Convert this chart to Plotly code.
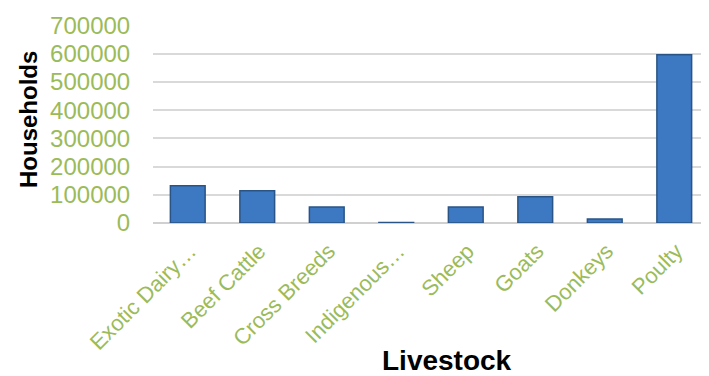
import plotly.graph_objects as go

categories = ["Exotic Dairy…", "Beef Cattle", "Cross Breeds", "Indigenous…",
              "Sheep", "Goats", "Donkeys", "Poulty"]
households = [132000, 114000, 57000, 1500, 57000, 93000, 14000, 596000]
y_ticks = [0, 100000, 200000, 300000, 400000, 500000, 600000, 700000]

green = "#9BBB59"

fig = go.Figure(go.Bar(
    x=categories, y=households, width=0.5,
    marker=dict(color="#3D78C2", line=dict(color="#2A5485", width=1.5)),
))

# page body has an 8px margin, so the figure is 8px smaller and positions shifted
OFF = 8
W, H = 709 - OFF, 376 - OFF
L, R, T = 153 - OFF, 0, 25 - OFF
B = H - (223 - OFF)
ph = H - T - B
pw = W - L - R

fig.update_layout(
    width=W, height=H,
    margin=dict(l=L, r=R, t=T, b=B),
    plot_bgcolor="white", paper_bgcolor="white",
    showlegend=False,
    font=dict(family="Liberation Sans, Arial", color=green),
)
fig.update_yaxes(
    range=[0, 701500], tickvals=y_ticks, ticktext=[str(v) for v in y_ticks],
    tickfont=dict(size=24, color=green),
    showgrid=True, gridcolor="#D9D9D9", gridwidth=1.5,
    zeroline=True, zerolinecolor="#D0D0D0", zerolinewidth=1.5,
    ticks="outside", ticklen=17, tickcolor="rgba(0,0,0,0)",
    automargin=False,
)
fig.update_xaxes(
    tickangle=-45, tickfont=dict(size=22, color=green),
    ticklabelshift=2, ticklabelstandoff=10,
    showline=False, automargin=False,
)
fig.add_annotation(
    text="<b>Livestock</b>", font=dict(size=28, color="black"),
    xref="paper", yref="paper", x=(447 - OFF - L) / pw, y=(T + ph - (360 - OFF)) / ph,
    xanchor="center", yanchor="middle", showarrow=False, borderpad=0,
)
fig.add_annotation(
    text="<b>Households</b>", font=dict(size=24, color="black"), textangle=-90,
    xref="paper", yref="paper", x=(28 - OFF - L) / pw, y=(T + ph - (120 - OFF)) / ph,
    xanchor="center", yanchor="middle", showarrow=False,
)

fig.write_html("out.html")
